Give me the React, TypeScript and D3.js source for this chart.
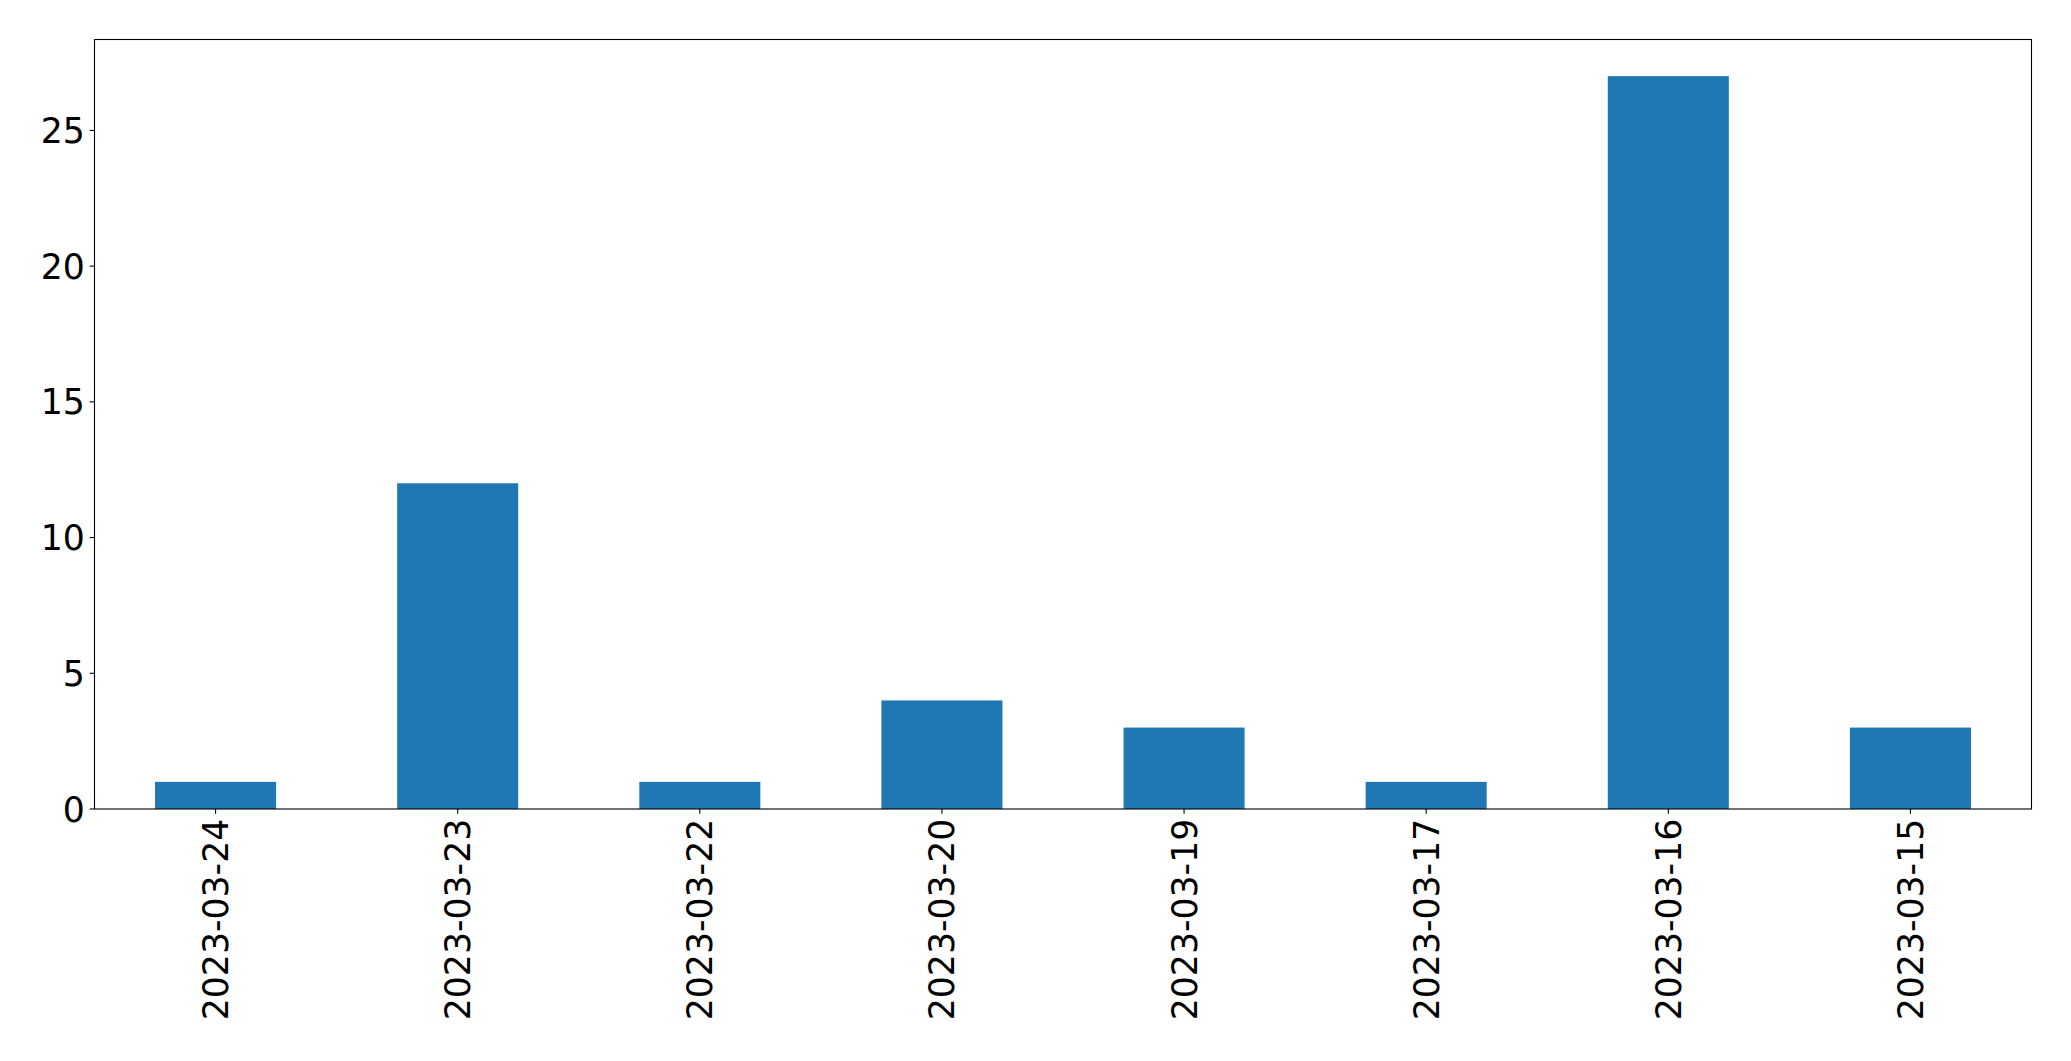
import React from "react";
import * as d3 from "d3";

const dates = [
  "2023-03-24",
  "2023-03-23",
  "2023-03-22",
  "2023-03-20",
  "2023-03-19",
  "2023-03-17",
  "2023-03-16",
  "2023-03-15",
];
const counts = [1, 12, 1, 4, 3, 1, 27, 3];
const yTicks = [0, 5, 10, 15, 20, 25];

const width = 2071;
const height = 1061;
const margin = { left: 94.5, right: 39.5, top: 39.5, bottom: 252 };
const barColor = "#1f77b4";
const font = "'DejaVu Sans', sans-serif";
const fontSize = 34.7;
const tickLen = 4.86;
const pad = 4.86;

export default function App() {
  const x0 = margin.left;
  const x1 = width - margin.right;
  const y0 = height - margin.bottom;
  const y1 = margin.top;

  // matplotlib-style bar positions: centers at 0..n-1, range [-0.5, n-0.5]
  const x = d3.scaleLinear().domain([-0.5, dates.length - 0.5]).range([x0, x1]);
  const maxV = d3.max(counts) ?? 1;
  const y = d3.scaleLinear().domain([0, maxV * 1.05]).range([y0, y1]);
  const barW = x(0.25) - x(-0.25);

  return (
    <svg
      width={width}
      height={height}
      style={{ position: "absolute", left: 0, top: 0, background: "#fff" }}
      fontFamily={font}
    >
      <rect x={0} y={0} width={width} height={height} fill="#fff" />
      {counts.map((v, i) => (
        <rect
          key={dates[i]}
          x={x(i) - barW / 2}
          y={y(v)}
          width={barW}
          height={y(0) - y(v)}
          fill={barColor}
        />
      ))}

      {/* frame */}
      <rect
        x={x0}
        y={y1}
        width={x1 - x0}
        height={y0 - y1}
        fill="none"
        stroke="#000"
        strokeWidth={1.1}
      />

      {/* y axis */}
      {yTicks.map((t) => (
        <g key={t} transform={`translate(${x0},${y(t)})`}>
          <line x1={-tickLen} x2={0} stroke="#000" strokeWidth={1.1} />
          <text
            x={-tickLen - pad}
            dy="0.36em"
            textAnchor="end"
            fontSize={fontSize}
            fill="#000"
          >
            {t}
          </text>
        </g>
      ))}

      {/* x axis */}
      {dates.map((d, i) => (
        <g key={d} transform={`translate(${x(i)},${y0})`}>
          <line y1={0} y2={tickLen} stroke="#000" strokeWidth={1.1} />
          <text
            transform={`translate(0,${tickLen + pad}) rotate(-90)`}
            dy="0.36em"
            textAnchor="end"
            fontSize={fontSize}
            fill="#000"
          >
            {d}
          </text>
        </g>
      ))}
    </svg>
  );
}
